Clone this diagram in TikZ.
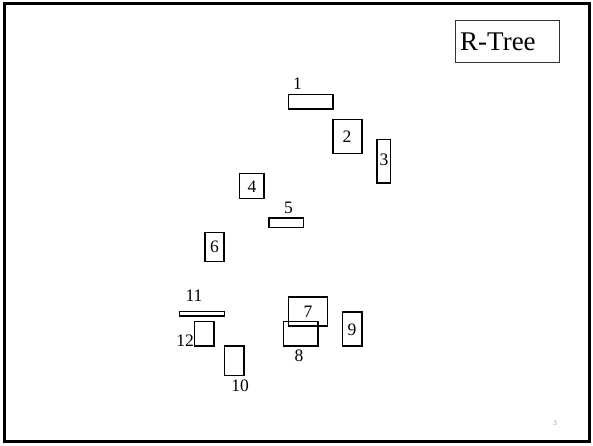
\documentclass[tikz,border=0pt]{standalone}
\usepackage{fontspec}
\setmainfont{Liberation Serif}
\usepackage{tikz}
\usetikzlibrary{positioning}
\tikzstyle{mbr}=[draw,line width=1.7pt]
\tikzstyle{idx}=[inner sep=0pt,font=\fontsize{17.5}{20}\selectfont]
\tikzstyle{title}=[draw,line width=0.8pt,black!80,text=black,inner sep=0pt,font=\fontsize{27}{30}\selectfont]

\begin{document}
\begin{tikzpicture}[x=1pt,y=-1pt]

  \useasboundingbox (0,0) rectangle (593,445);
  % slide frame
  \draw[line width=3pt] (4.5,3.5) rectangle (589.5,441.5);

  % bounding rectangles of the objects
  \foreach \xa/\ya/\xb/\yb in {288.5/94.5/333/109, 333/119.5/362/153.5, 377/139.5/390.5/183,
      239.5/173.5/264/198.5, 269/218/303.5/227.5, 205/232.5/224/261.5,
      288.5/297/327.5/326, 283.5/321.5/318/346, 342.5/312/362/346,
      224.5/346/244/375.5, 179.5/311.5/224.5/316, 194.5/321.5/214/346}
    \draw[mbr] (\xa,\ya) rectangle (\xb,\yb);

  % their numbers
  \foreach \x/\y/\name/\label in {297.5/84/l1/1, 347/137/l2/2, 384/160/l3/3, 252/186.5/l4/4,
      288.5/208/l5/5, 214.5/247/l6/6, 308/311.5/l7/7, 299/356/l8/8, 352/330/l9/9,
      240/386/l10/10, 194/296/l11/11, 185/341/l12/12}
    \node[idx] (\name) at (\x,\y) {\label};

  \node[title,minimum width=103.5pt,minimum height=41.5pt] (box) at (507.25,41.25) {};
  \node[inner sep=0pt,anchor=west,font=\fontsize{27}{30}\selectfont] (rtree) at (460,42) {R-Tree};

  \node[gray!80,inner sep=0pt,font=\fontsize{7}{8}\selectfont] (pgnum) at (555,423) {3};

\end{tikzpicture}
\end{document}
